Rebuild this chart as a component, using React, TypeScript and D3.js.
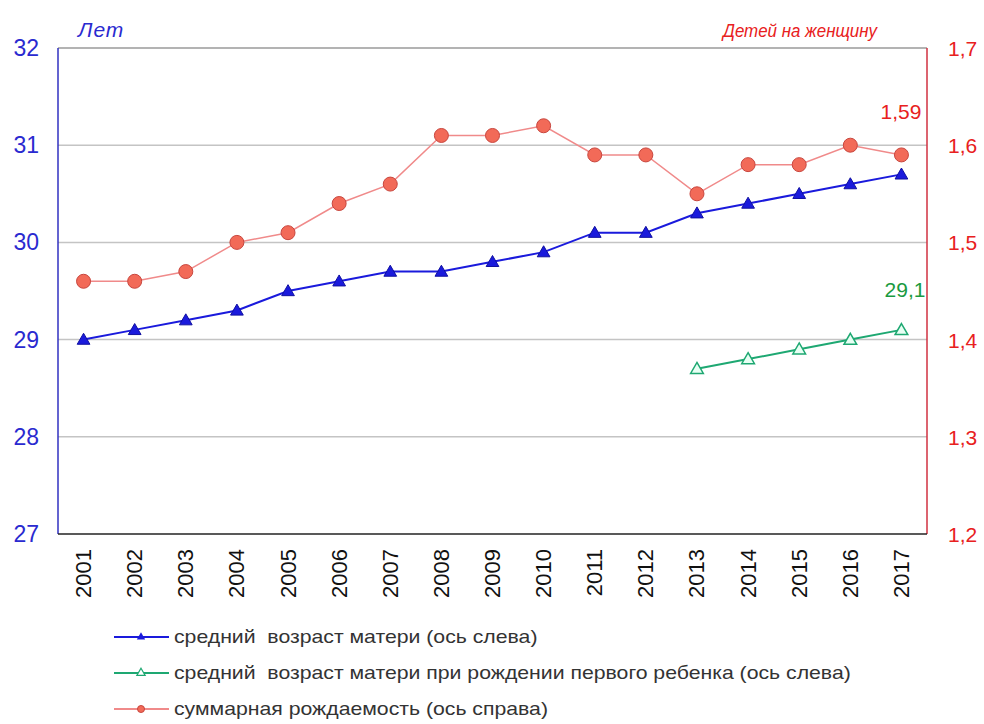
import React from "react";
import * as d3 from "d3";

const years = ["2001","2002","2003","2004","2005","2006","2007","2008","2009","2010","2011","2012","2013","2014","2015","2016","2017"];
const motherAge = [29.0,29.1,29.2,29.3,29.5,29.6,29.7,29.7,29.8,29.9,30.1,30.1,30.3,30.4,30.5,30.6,30.7];
const firstChildYears = ["2013","2014","2015","2016","2017"];
const firstChildAge = [28.7,28.8,28.9,29.0,29.1];
const fertility = [1.46,1.46,1.47,1.50,1.51,1.54,1.56,1.61,1.61,1.62,1.59,1.59,1.55,1.58,1.58,1.60,1.59];
const leftTicks = [27,28,29,30,31,32];
const rightTicks = [1.2,1.3,1.4,1.5,1.6,1.7];
const legendLabels = [
  "средний  возраст матери (ось слева)",
  "средний  возраст матери при рождении первого ребенка (ось слева)",
  "суммарная рождаемость (ось справа)",
];

const W = 984, H = 724;
const L = 58, R = 927, T = 48, B = 534;
const FONT = "'Liberation Sans', Arial, sans-serif";
const BLUE = "#1a1adc";
const GREEN = "#1ea872";
const RED_LINE = "#f08a8a";
const RED_FILL = "#f26a58";
const RED_STROKE = "#c8463e";
const RED_TEXT = "#e82020";

const fmt = (v: number, d: number) => v.toFixed(d).replace(".", ",");

export default function App() {
  const x = d3.scalePoint<string>().domain(years).range([L, R]).padding(0.5);
  const yL = d3.scaleLinear().domain([27, 32]).range([B, T]);
  const yR = d3.scaleLinear().domain([1.2, 1.7]).range([B, T]);

  const lineL = d3.line<[string, number]>().x(d => x(d[0])!).y(d => yL(d[1]));
  const lineR = d3.line<[string, number]>().x(d => x(d[0])!).y(d => yR(d[1]));

  const blueData: [string, number][] = years.map((y, i) => [y, motherAge[i]]);
  const greenData: [string, number][] = firstChildYears.map((y, i) => [y, firstChildAge[i]]);
  const redData: [string, number][] = years.map((y, i) => [y, fertility[i]]);

  const tri = d3.symbol().type(d3.symbolTriangle).size(70)()!;
  const triSmall = d3.symbol().type(d3.symbolTriangle).size(30)()!;

  const last = years.length - 1;

  return (
    <svg width={W} height={H} style={{ position: "absolute", left: 0, top: 0, background: "#fff" }} fontFamily={FONT}>
      <rect x={0} y={0} width={W} height={H} fill="#fff" />
      {/* grid */}
      {leftTicks.slice(1, -1).map(t => (
        <line key={t} x1={L} x2={R} y1={yL(t)} y2={yL(t)} stroke="#c4c4c4" strokeWidth={1.5} />
      ))}
      <line x1={L} x2={R} y1={T} y2={T} stroke="#9a9a9a" strokeWidth={1.5} />
      {/* axes */}
      <line x1={L} x2={L} y1={T} y2={B} stroke="#3030c0" strokeWidth={1.5} />
      <line x1={R} x2={R} y1={T} y2={B} stroke="#d03040" strokeWidth={1.5} />
      <line x1={L} x2={R} y1={B} y2={B} stroke="#222" strokeWidth={1.5} />

      {/* left ticks */}
      {leftTicks.map(t => (
        <text key={t} x={39} y={yL(t) + 8} textAnchor="end" fontSize={23} fill="#2a2ad0">{t}</text>
      ))}
      {/* right ticks */}
      {rightTicks.map(t => (
        <text key={t} x={948} y={yR(t) + 8} textAnchor="start" fontSize={21} fill={RED_TEXT}>{fmt(t, 1)}</text>
      ))}
      <text x={78} y={37} fontSize={21} letterSpacing={1} fontStyle="italic" fill="#2a2ad0">Лет</text>
      <text transform="translate(877,37) scale(0.94,1)" fontSize={18} fontStyle="italic" textAnchor="end" fill={RED_TEXT}>Детей на женщину</text>

      {/* x labels */}
      {years.map(y => (
        <text key={y} transform={`translate(${x(y)! + 7.5},${549}) rotate(-90)`} textAnchor="end" fontSize={22} fill="#111">{y}</text>
      ))}

      {/* red series */}
      <path d={lineR(redData)!} fill="none" stroke={RED_LINE} strokeWidth={1.5} />
      {redData.map(d => (
        <circle key={d[0]} cx={x(d[0])} cy={yR(d[1])} r={7} fill={RED_FILL} stroke={RED_STROKE} strokeWidth={1} />
      ))}
      {/* blue series */}
      <path d={lineL(blueData)!} fill="none" stroke={BLUE} strokeWidth={2} />
      {blueData.map(d => (
        <path key={d[0]} d={tri} transform={`translate(${x(d[0])},${yL(d[1]) + 1})`} fill={BLUE} stroke="#1010a0" strokeWidth={1} />
      ))}
      {/* green series */}
      <path d={lineL(greenData)!} fill="none" stroke={GREEN} strokeWidth={2} />
      {greenData.map(d => (
        <path key={d[0]} d={tri} transform={`translate(${x(d[0])},${yL(d[1]) + 1})`} fill="#e8fff4" stroke={GREEN} strokeWidth={1.5} />
      ))}

      {/* value labels */}
      <text x={x(years[last])! + 20} y={yR(fertility[last]) - 36} textAnchor="end" fontSize={21} fill={RED_TEXT}>{fmt(fertility[last], 2)}</text>
      <text x={x(firstChildYears[firstChildYears.length - 1])! + 24} y={yL(firstChildAge[firstChildAge.length - 1]) - 33} textAnchor="end" fontSize={21} fill="#1a9a40">{fmt(firstChildAge[firstChildAge.length - 1], 1)}</text>

      {/* legend */}
      {legendLabels.map((lab, i) => {
        const ly = 637 + i * 36;
        const color = i === 0 ? BLUE : i === 1 ? GREEN : RED_LINE;
        return (
          <g key={i}>
            <line x1={114} x2={169} y1={ly} y2={ly} stroke={color} strokeWidth={2} />
            {i === 0 && <path d={triSmall} transform={`translate(141,${ly})`} fill={BLUE} />}
            {i === 1 && <path d={triSmall} transform={`translate(141,${ly})`} fill="#fff" stroke={GREEN} strokeWidth={1.2} />}
            {i === 2 && <circle cx={141} cy={ly} r={3.5} fill={RED_FILL} stroke={RED_STROKE} />}
            <text transform={`translate(174,${ly + 6}) scale(1.18,1)`} fontSize={18} fill="#333" style={{ whiteSpace: "pre" }}>{lab}</text>
          </g>
        );
      })}
    </svg>
  );
}
